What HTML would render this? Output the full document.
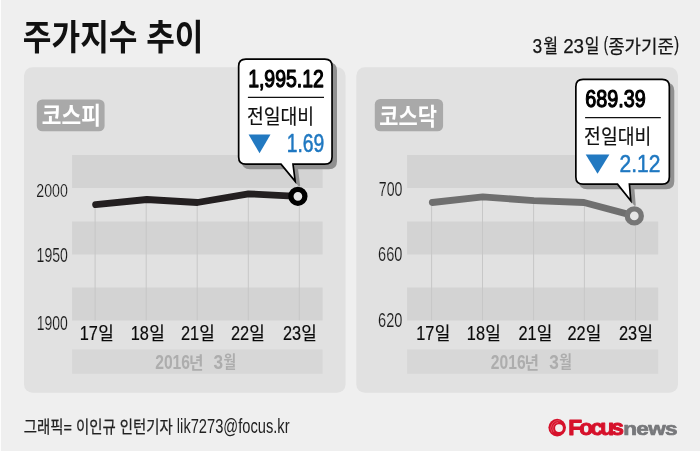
<!DOCTYPE html>
<html lang="ko"><head><meta charset="utf-8"><title>주가지수 추이</title>
<style>
html,body{margin:0;padding:0;background:#efefef;}
body{width:700px;height:451px;overflow:hidden;}
svg{display:block;will-change:transform;font-family:"Liberation Sans", "Noto Sans CJK KR", sans-serif;}
</style></head><body>
<svg width="700" height="451" viewBox="0 0 700 451">
<rect width="700" height="451" fill="#efefef"/>
<rect width="1" height="451" fill="#fdfdfd"/>
<rect x="24" y="67.3" width="321.6" height="325.4" rx="8.5" fill="#e1e1e1"/>
<rect x="72.1" y="155" width="250.50000000000003" height="33" fill="#d3d3d3"/>
<rect x="72.1" y="221.5" width="250.50000000000003" height="33" fill="#d3d3d3"/>
<rect x="72.1" y="287.5" width="250.50000000000003" height="33" fill="#d3d3d3"/>
<rect x="72.1" y="349.4" width="250.50000000000003" height="24.4" fill="#d7d7d7"/>
<line x1="95.1" y1="204.7" x2="95.1" y2="320.5" stroke="#c7c7c7" stroke-width="1"/>
<line x1="146.2" y1="199.5" x2="146.2" y2="320.5" stroke="#c7c7c7" stroke-width="1"/>
<line x1="197.2" y1="202.5" x2="197.2" y2="320.5" stroke="#c7c7c7" stroke-width="1"/>
<line x1="248.3" y1="193.8" x2="248.3" y2="320.5" stroke="#c7c7c7" stroke-width="1"/>
<line x1="299.3" y1="196.3" x2="299.3" y2="320.5" stroke="#c7c7c7" stroke-width="1"/>
<rect x="36.8" y="99.4" width="67.8" height="31.900000000000006" rx="5.5" fill="#a9a9a9"/>
<path d="M95.6 204.7 L146.9 199.5 L197.4 202.5 L248.5 193.8 L297.9 196.3" fill="none" stroke="#231f20" stroke-width="6.8" stroke-linecap="round" stroke-linejoin="round"/>
<circle cx="297.9" cy="196.3" r="7" fill="#e6e6e6" stroke="#000" stroke-width="5.3"/>
<rect x="356.3" y="67.3" width="321.7" height="325.4" rx="8.5" fill="#e1e1e1"/>
<rect x="407.1" y="155" width="251.10000000000002" height="33" fill="#d3d3d3"/>
<rect x="407.1" y="221.5" width="251.10000000000002" height="33" fill="#d3d3d3"/>
<rect x="407.1" y="287.5" width="251.10000000000002" height="33" fill="#d3d3d3"/>
<rect x="407.1" y="349.4" width="251.10000000000002" height="24.4" fill="#d7d7d7"/>
<line x1="431.6" y1="202.5" x2="431.6" y2="320.5" stroke="#c7c7c7" stroke-width="1"/>
<line x1="482.5" y1="196.9" x2="482.5" y2="320.5" stroke="#c7c7c7" stroke-width="1"/>
<line x1="533.6" y1="200.6" x2="533.6" y2="320.5" stroke="#c7c7c7" stroke-width="1"/>
<line x1="584.4" y1="202.5" x2="584.4" y2="320.5" stroke="#c7c7c7" stroke-width="1"/>
<line x1="635.5" y1="215.9" x2="635.5" y2="320.5" stroke="#c7c7c7" stroke-width="1"/>
<rect x="374.8" y="98.9" width="68.30000000000001" height="32.400000000000006" rx="5.5" fill="#a9a9a9"/>
<path d="M432.3 202.5 L482.8 196.9 L533.9 200.6 L584 202.5 L634.3 215.9" fill="none" stroke="#6f6f6f" stroke-width="6.8" stroke-linecap="round" stroke-linejoin="round"/>
<circle cx="634.3" cy="215.9" r="7" fill="#e6e6e6" stroke="#767676" stroke-width="5.3"/>
<path d="M245.85 59.050000000000004 H324.84999999999997 Q332.04999999999995 59.050000000000004 332.04999999999995 66.25 V156.95000000000002 Q332.04999999999995 164.15 324.84999999999997 164.15 H293.0 L295.2 181.4 L281 164.15 H245.85 Q238.65 164.15 238.65 156.95000000000002 V66.25 Q238.65 59.050000000000004 245.85 59.050000000000004 Z" transform="translate(4.1 4.2)" fill="#909090" stroke="#909090" stroke-width="1.7" stroke-linejoin="round"/>
<path d="M245.85 59.050000000000004 H324.84999999999997 Q332.04999999999995 59.050000000000004 332.04999999999995 66.25 V156.95000000000002 Q332.04999999999995 164.15 324.84999999999997 164.15 H293.0 L295.2 181.4 L281 164.15 H245.85 Q238.65 164.15 238.65 156.95000000000002 V66.25 Q238.65 59.050000000000004 245.85 59.050000000000004 Z" fill="#fff" stroke="#000" stroke-width="1.7" stroke-linejoin="miter"/>
<line x1="247.9" y1="97.4" x2="324" y2="97.4" stroke="#111" stroke-width="1.2"/>
<path d="M248.6 134.5 H270.5 L259.55 153.2 Z" fill="#2279c1"/>
<path d="M583.0500000000001 79.44999999999999 H662.15 Q669.35 79.44999999999999 669.35 86.64999999999999 V176.95000000000002 Q669.35 184.15 662.15 184.15 H629.4 L630.8 200.8 L617.5 184.15 H583.0500000000001 Q575.85 184.15 575.85 176.95000000000002 V86.64999999999999 Q575.85 79.44999999999999 583.0500000000001 79.44999999999999 Z" transform="translate(4.1 4.2)" fill="#909090" stroke="#909090" stroke-width="1.7" stroke-linejoin="round"/>
<path d="M583.0500000000001 79.44999999999999 H662.15 Q669.35 79.44999999999999 669.35 86.64999999999999 V176.95000000000002 Q669.35 184.15 662.15 184.15 H629.4 L630.8 200.8 L617.5 184.15 H583.0500000000001 Q575.85 184.15 575.85 176.95000000000002 V86.64999999999999 Q575.85 79.44999999999999 583.0500000000001 79.44999999999999 Z" fill="#fff" stroke="#000" stroke-width="1.7" stroke-linejoin="miter"/>
<line x1="585.1" y1="117.6" x2="660.8" y2="117.6" stroke="#111" stroke-width="1.2"/>
<path d="M585.7 154.5 H609.4 L597.55 173.8 Z" fill="#2279c1"/>
<g>
<circle cx="557.2" cy="427.6" r="8.8" fill="#d6112b"/>
<circle cx="559.0" cy="428.1" r="3.9" fill="#f3efef"/>
<path d="M552.0 432.6 A7.6 7.6 0 0 1 560.2 421.0" fill="none" stroke="#e8606f" stroke-width="0.7"/>
<path d="M553.9 431.9 A6.0 6.0 0 0 1 558.2 422.4" fill="none" stroke="#ec7885" stroke-width="0.6"/>
</g>
<text><tspan x="532.53" y="53.07" font-size="20.49" font-weight="400" fill="#151515" stroke="#151515" stroke-width="0.25" stroke-linejoin="round"  textLength="9.65" lengthAdjust="spacingAndGlyphs">3</tspan><tspan x="543.32" y="53.13" font-size="19.17" font-weight="400" fill="#151515" stroke="#151515" stroke-width="0.25" stroke-linejoin="round"  textLength="14.76" lengthAdjust="spacingAndGlyphs">월</tspan> <tspan x="563.19" y="53.07" font-size="20.49" font-weight="400" fill="#151515" stroke="#151515" stroke-width="0.25" stroke-linejoin="round"  textLength="20.88" lengthAdjust="spacingAndGlyphs">23</tspan><tspan x="584.71" y="53.13" font-size="19.17" font-weight="400" fill="#151515" stroke="#151515" stroke-width="0.25" stroke-linejoin="round"  textLength="14.66" lengthAdjust="spacingAndGlyphs">일</tspan> <tspan x="603.63" y="50.83" font-size="19.73" font-weight="400" fill="#151515" stroke="#151515" stroke-width="0.25" stroke-linejoin="round"  textLength="4.42" lengthAdjust="spacingAndGlyphs">(</tspan><tspan x="608.13" y="52.59" font-size="18.52" font-weight="400" fill="#151515" stroke="#151515" stroke-width="0.25" stroke-linejoin="round"  textLength="65.74" lengthAdjust="spacingAndGlyphs">종가기준</tspan><tspan x="674.28" y="50.83" font-size="19.73" font-weight="400" fill="#151515" stroke="#151515" stroke-width="0.25" stroke-linejoin="round"  textLength="4.8" lengthAdjust="spacingAndGlyphs">)</tspan></text>
<text><tspan x="79.73" y="339.9" font-size="19.71" font-weight="400" fill="#0a0a0a" stroke="#0a0a0a" stroke-width="0.2" stroke-linejoin="round"  textLength="18.17" lengthAdjust="spacingAndGlyphs">17</tspan><tspan x="98.16" y="340.32" font-size="18.33" font-weight="400" fill="#0a0a0a" stroke="#0a0a0a" stroke-width="0.2" stroke-linejoin="round"  textLength="15.58" lengthAdjust="spacingAndGlyphs">일</tspan></text>
<text><tspan x="130.73" y="339.9" font-size="19.71" font-weight="400" fill="#0a0a0a" stroke="#0a0a0a" stroke-width="0.2" stroke-linejoin="round"  textLength="18.17" lengthAdjust="spacingAndGlyphs">18</tspan><tspan x="149.16" y="340.32" font-size="18.33" font-weight="400" fill="#0a0a0a" stroke="#0a0a0a" stroke-width="0.2" stroke-linejoin="round"  textLength="15.58" lengthAdjust="spacingAndGlyphs">일</tspan></text>
<text><tspan x="180.93" y="339.9" font-size="19.71" font-weight="400" fill="#0a0a0a" stroke="#0a0a0a" stroke-width="0.2" stroke-linejoin="round"  textLength="18.17" lengthAdjust="spacingAndGlyphs">21</tspan><tspan x="199.36" y="340.32" font-size="18.33" font-weight="400" fill="#0a0a0a" stroke="#0a0a0a" stroke-width="0.2" stroke-linejoin="round"  textLength="15.58" lengthAdjust="spacingAndGlyphs">일</tspan></text>
<text><tspan x="230.93" y="339.9" font-size="19.71" font-weight="400" fill="#0a0a0a" stroke="#0a0a0a" stroke-width="0.2" stroke-linejoin="round"  textLength="18.17" lengthAdjust="spacingAndGlyphs">22</tspan><tspan x="249.36" y="340.32" font-size="18.33" font-weight="400" fill="#0a0a0a" stroke="#0a0a0a" stroke-width="0.2" stroke-linejoin="round"  textLength="15.58" lengthAdjust="spacingAndGlyphs">일</tspan></text>
<text><tspan x="282.93" y="339.9" font-size="19.71" font-weight="400" fill="#0a0a0a" stroke="#0a0a0a" stroke-width="0.2" stroke-linejoin="round"  textLength="18.17" lengthAdjust="spacingAndGlyphs">23</tspan><tspan x="301.36" y="340.32" font-size="18.33" font-weight="400" fill="#0a0a0a" stroke="#0a0a0a" stroke-width="0.2" stroke-linejoin="round"  textLength="15.58" lengthAdjust="spacingAndGlyphs">일</tspan></text>
<text><tspan x="155.23" y="368.9" font-size="20.0" font-weight="700" fill="#adadad"  textLength="34.81" lengthAdjust="spacingAndGlyphs">2016</tspan><tspan x="188.88" y="368.53" font-size="17.17" font-weight="700" fill="#adadad"  textLength="14.47" lengthAdjust="spacingAndGlyphs">년</tspan> <tspan x="213.56" y="368.9" font-size="20.0" font-weight="700" fill="#adadad"  textLength="9.57" lengthAdjust="spacingAndGlyphs">3</tspan><tspan x="223.55" y="368.37" font-size="16.99" font-weight="700" fill="#adadad"  textLength="12.65" lengthAdjust="spacingAndGlyphs">월</tspan></text>
<text><tspan x="416.23" y="339.9" font-size="19.71" font-weight="400" fill="#0a0a0a" stroke="#0a0a0a" stroke-width="0.2" stroke-linejoin="round"  textLength="18.17" lengthAdjust="spacingAndGlyphs">17</tspan><tspan x="434.66" y="340.32" font-size="18.33" font-weight="400" fill="#0a0a0a" stroke="#0a0a0a" stroke-width="0.2" stroke-linejoin="round"  textLength="15.58" lengthAdjust="spacingAndGlyphs">일</tspan></text>
<text><tspan x="466.83" y="339.9" font-size="19.71" font-weight="400" fill="#0a0a0a" stroke="#0a0a0a" stroke-width="0.2" stroke-linejoin="round"  textLength="18.17" lengthAdjust="spacingAndGlyphs">18</tspan><tspan x="485.26" y="340.32" font-size="18.33" font-weight="400" fill="#0a0a0a" stroke="#0a0a0a" stroke-width="0.2" stroke-linejoin="round"  textLength="15.58" lengthAdjust="spacingAndGlyphs">일</tspan></text>
<text><tspan x="518.43" y="339.9" font-size="19.71" font-weight="400" fill="#0a0a0a" stroke="#0a0a0a" stroke-width="0.2" stroke-linejoin="round"  textLength="18.17" lengthAdjust="spacingAndGlyphs">21</tspan><tspan x="536.86" y="340.32" font-size="18.33" font-weight="400" fill="#0a0a0a" stroke="#0a0a0a" stroke-width="0.2" stroke-linejoin="round"  textLength="15.58" lengthAdjust="spacingAndGlyphs">일</tspan></text>
<text><tspan x="567.43" y="339.9" font-size="19.71" font-weight="400" fill="#0a0a0a" stroke="#0a0a0a" stroke-width="0.2" stroke-linejoin="round"  textLength="18.17" lengthAdjust="spacingAndGlyphs">22</tspan><tspan x="585.86" y="340.32" font-size="18.33" font-weight="400" fill="#0a0a0a" stroke="#0a0a0a" stroke-width="0.2" stroke-linejoin="round"  textLength="15.58" lengthAdjust="spacingAndGlyphs">일</tspan></text>
<text><tspan x="619.03" y="339.9" font-size="19.71" font-weight="400" fill="#0a0a0a" stroke="#0a0a0a" stroke-width="0.2" stroke-linejoin="round"  textLength="18.17" lengthAdjust="spacingAndGlyphs">23</tspan><tspan x="637.46" y="340.32" font-size="18.33" font-weight="400" fill="#0a0a0a" stroke="#0a0a0a" stroke-width="0.2" stroke-linejoin="round"  textLength="15.58" lengthAdjust="spacingAndGlyphs">일</tspan></text>
<text><tspan x="490.83" y="368.9" font-size="20.0" font-weight="700" fill="#adadad"  textLength="34.81" lengthAdjust="spacingAndGlyphs">2016</tspan><tspan x="524.48" y="368.53" font-size="17.17" font-weight="700" fill="#adadad"  textLength="14.47" lengthAdjust="spacingAndGlyphs">년</tspan> <tspan x="549.16" y="368.9" font-size="20.0" font-weight="700" fill="#adadad"  textLength="9.57" lengthAdjust="spacingAndGlyphs">3</tspan><tspan x="559.15" y="368.37" font-size="16.99" font-weight="700" fill="#adadad"  textLength="12.65" lengthAdjust="spacingAndGlyphs">월</tspan></text>
<text><tspan x="23.8" y="433.49" font-size="17.31" font-weight="400" fill="#222" stroke="#222" stroke-width="0.25" stroke-linejoin="round"  textLength="149.0" lengthAdjust="spacingAndGlyphs">그래픽= 이인규 인턴기자</tspan> <tspan x="176.87" y="433.1" font-size="19.86" font-weight="400" fill="#222"  textLength="112.65" lengthAdjust="spacingAndGlyphs">lik7273@focus.kr</tspan></text>
<text><tspan x="568.25" y="435.34" font-size="21.29" font-weight="700" fill="#d6112b" stroke="#d6112b" stroke-width="0.9" stroke-linejoin="round" letter-spacing="-0.125em" textLength="52.87" lengthAdjust="spacingAndGlyphs">Focus</tspan><tspan x="623.17" y="435.27" font-size="18.36" font-weight="700" fill="#77787b" stroke="#77787b" stroke-width="0.7" stroke-linejoin="round" letter-spacing="-0.03em" textLength="53.73" lengthAdjust="spacingAndGlyphs">news</tspan></text>
<text><tspan x="22.85" y="50.21" font-size="35.48" font-weight="700" fill="#111"  textLength="180.61" lengthAdjust="spacingAndGlyphs">주가지수 추이</tspan></text>
<text><tspan x="41.74" y="123.86" font-size="23.76" font-weight="700" fill="#fff"  textLength="59.11" lengthAdjust="spacingAndGlyphs">코스피</tspan></text>
<text><tspan x="379.26" y="124.54" font-size="23.98" font-weight="700" fill="#fff"  textLength="57.66" lengthAdjust="spacingAndGlyphs">코스닥</tspan></text>
<text><tspan x="36.31" y="197.38" font-size="19.23" font-weight="400" fill="#1a1a1a" stroke="#e1e1e1" stroke-width="0.15"  textLength="31.59" lengthAdjust="spacingAndGlyphs">2000</tspan></text>
<text><tspan x="36.6" y="262.48" font-size="19.51" font-weight="400" fill="#1a1a1a" stroke="#e1e1e1" stroke-width="0.15"  textLength="31.3" lengthAdjust="spacingAndGlyphs">1950</tspan></text>
<text><tspan x="36.81" y="329.88" font-size="19.51" font-weight="400" fill="#1a1a1a" stroke="#e1e1e1" stroke-width="0.15"  textLength="31.09" lengthAdjust="spacingAndGlyphs">1900</tspan></text>
<text><tspan x="378.82" y="196.18" font-size="19.79" font-weight="400" fill="#1a1a1a" stroke="#e1e1e1" stroke-width="0.15"  textLength="23.6" lengthAdjust="spacingAndGlyphs">700</tspan></text>
<text><tspan x="378.1" y="261.38" font-size="19.93" font-weight="400" fill="#1a1a1a" stroke="#e1e1e1" stroke-width="0.15"  textLength="24.24" lengthAdjust="spacingAndGlyphs">660</tspan></text>
<text><tspan x="378.1" y="326.77" font-size="20.07" font-weight="400" fill="#1a1a1a" stroke="#e1e1e1" stroke-width="0.15"  textLength="24.34" lengthAdjust="spacingAndGlyphs">620</tspan></text>
<text><tspan x="248.17" y="86.72" font-size="24.28" font-weight="400" fill="#000" stroke="#000" stroke-width="1.25" stroke-linejoin="round"  textLength="75.63" lengthAdjust="spacingAndGlyphs">1,995.12</tspan></text>
<text><tspan x="246.9" y="123.58" font-size="20.22" font-weight="400" fill="#111" stroke="#111" stroke-width="0.2" stroke-linejoin="round"  textLength="67.17" lengthAdjust="spacingAndGlyphs">전일대비</tspan></text>
<text><tspan x="286.73" y="152.18" font-size="24.86" font-weight="400" fill="#1f78c1" stroke="#1f78c1" stroke-width="0.55" stroke-linejoin="round"  textLength="37.59" lengthAdjust="spacingAndGlyphs">1.69</tspan></text>
<text><tspan x="585.34" y="107.03" font-size="24.72" font-weight="400" fill="#000" stroke="#000" stroke-width="1.25" stroke-linejoin="round"  textLength="60.5" lengthAdjust="spacingAndGlyphs">689.39</tspan></text>
<text><tspan x="584.1" y="143.58" font-size="20.22" font-weight="400" fill="#111" stroke="#111" stroke-width="0.2" stroke-linejoin="round"  textLength="67.17" lengthAdjust="spacingAndGlyphs">전일대비</tspan></text>
<text><tspan x="619.52" y="171.72" font-size="24.21" font-weight="400" fill="#1f78c1" stroke="#1f78c1" stroke-width="0.55" stroke-linejoin="round"  textLength="40.87" lengthAdjust="spacingAndGlyphs">2.12</tspan></text>
</svg>
</body></html>
